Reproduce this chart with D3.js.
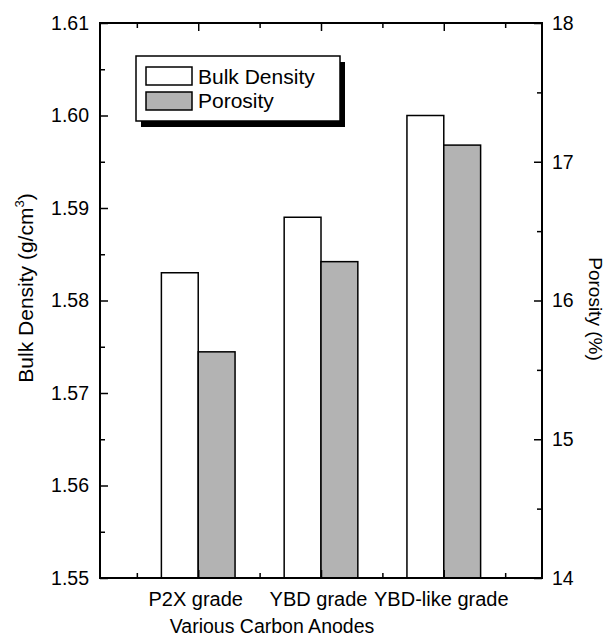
<!DOCTYPE html>
<html>
<head>
<meta charset="utf-8">
<script src="https://cdn.jsdelivr.net/npm/d3@7"></script>
<style>
  body { margin: 0; background: #fff; }
  text { font-family: "Liberation Sans", Arial, sans-serif; fill: #000; }
</style>
</head>
<body>
<div id="chart"></div>
<script>
//
// Bulk density and porosity of carbon anodes
//

var categories = ["P2X grade", "YBD grade", "YBD-like grade"];
var bulk_density = [1.583, 1.589, 1.600];   // g/cm3, left axis
var porosity = [15.63, 16.28, 17.12];       // %, right axis

var left_ticks = [1.55, 1.56, 1.57, 1.58, 1.59, 1.60, 1.61];
var left_minor = [1.555, 1.565, 1.575, 1.585, 1.595, 1.605];
var right_ticks = [14, 15, 16, 17, 18];
var right_minor = [14.5, 15.5, 16.5, 17.5];
var x_minor = [0.5, 1.5, 2.5, 3.5];

var series = [
  {name: "Bulk Density", fill: "#ffffff"},
  {name: "Porosity", fill: "#b3b3b3"}
];

var total_width = 608, total_height = 636;
var margin = {top: 23, right: 66, bottom: 58, left: 100},
    width = total_width - margin.left - margin.right,
    height = total_height - margin.top - margin.bottom;

var svg = d3.select("#chart").append("svg")
    .attr("width", total_width)
    .attr("height", total_height);

var g = svg.append("g")
    .attr("transform", "translate(" + margin.left + "," + margin.top + ")");

// scales
var x = d3.scaleLinear().domain([0.2, 3.8]).range([0, width]);
var y_left = d3.scaleLinear().domain([1.55, 1.61]).range([height, 0]);
var y_right = d3.scaleLinear().domain([14, 18]).range([height, 0]);

var bar_w = 0.3;

// bars
categories.forEach(function(c, i) {
  var cx = i + 1;
  g.append("rect")
      .attr("x", x(cx - bar_w))
      .attr("y", y_left(bulk_density[i]))
      .attr("width", x(cx) - x(cx - bar_w))
      .attr("height", height - y_left(bulk_density[i]))
      .attr("fill", series[0].fill)
      .attr("stroke", "#000")
      .attr("stroke-width", 1.5);
  g.append("rect")
      .attr("x", x(cx))
      .attr("y", y_right(porosity[i]))
      .attr("width", x(cx + bar_w) - x(cx))
      .attr("height", height - y_right(porosity[i]))
      .attr("fill", series[1].fill)
      .attr("stroke", "#000")
      .attr("stroke-width", 1.5);
});

// axes, ticks pointing inward
function style_axis(sel) {
  sel.select(".domain").remove();
  sel.selectAll(".tick line").attr("stroke", "#000").attr("stroke-width", 1.5);
  sel.selectAll(".tick text").attr("font-size", 19.5).attr("fill", "#000");
}

g.append("g")
    .call(d3.axisLeft(y_left).tickValues(left_ticks).tickSize(-8).tickPadding(11)
      .tickFormat(d3.format(".2f")))
    .call(style_axis);
g.append("g")
    .call(d3.axisLeft(y_left).tickValues(left_minor).tickSize(-5).tickFormat(""))
    .call(style_axis);

g.append("g")
    .attr("transform", "translate(" + width + ",0)")
    .call(d3.axisRight(y_right).tickValues(right_ticks).tickSize(-8).tickPadding(10)
      .tickFormat(d3.format("d")))
    .call(style_axis);
g.append("g")
    .attr("transform", "translate(" + width + ",0)")
    .call(d3.axisRight(y_right).tickValues(right_minor).tickSize(-5).tickFormat(""))
    .call(style_axis);

var xAxis = g.append("g")
    .attr("transform", "translate(0," + height + ")")
    .call(d3.axisBottom(x).tickValues([1, 2, 3]).tickSize(-8).tickPadding(14)
      .tickFormat(function(d) { return categories[d - 1]; }))
    .call(style_axis);
xAxis.selectAll(".tick text")
    .attr("font-size", 20)
    .attr("dx", -3);
g.append("g")
    .attr("transform", "translate(0," + height + ")")
    .call(d3.axisBottom(x).tickValues(x_minor).tickSize(-5).tickFormat(""))
    .call(style_axis);

g.append("g")
    .call(d3.axisTop(x).tickValues([1, 2, 3]).tickSize(-8).tickFormat(""))
    .call(style_axis);
g.append("g")
    .call(d3.axisTop(x).tickValues(x_minor).tickSize(-5).tickFormat(""))
    .call(style_axis);

// frame
g.append("rect")
    .attr("width", width)
    .attr("height", height)
    .attr("fill", "none")
    .attr("stroke", "#000")
    .attr("stroke-width", 2);

// labels
svg.append("text")
    .attr("x", 272)
    .attr("y", 633)
    .attr("text-anchor", "middle")
    .attr("font-size", 19.5)
    .text("Various Carbon Anodes");

var yl = svg.append("text")
    .attr("transform", "translate(33,288) rotate(-90)")
    .attr("text-anchor", "middle")
    .attr("font-size", 21);
yl.append("tspan").text("Bulk Density (g/cm");
yl.append("tspan").attr("font-size", 13).attr("dy", -9).text("3");
yl.append("tspan").attr("dy", 9).text(")");

svg.append("text")
    .attr("transform", "translate(589,309) rotate(90)")
    .attr("text-anchor", "middle")
    .attr("font-size", 19)
    .text("Porosity (%)");

// legend
var legend = svg.append("g").attr("transform", "translate(136,56)");
legend.append("rect")
    .attr("x", 5).attr("y", 6)
    .attr("width", 204).attr("height", 65)
    .attr("fill", "#000");
legend.append("rect")
    .attr("width", 204).attr("height", 65)
    .attr("fill", "#fff")
    .attr("stroke", "#000")
    .attr("stroke-width", 1.5);

series.forEach(function(s, i) {
  legend.append("rect")
      .attr("x", 10)
      .attr("y", 11 + i * 25)
      .attr("width", 46)
      .attr("height", 18)
      .attr("fill", s.fill)
      .attr("stroke", "#000")
      .attr("stroke-width", 1.5);
  legend.append("text")
      .attr("x", 62)
      .attr("y", 28 + i * 24)
      .attr("font-size", 21)
      .text(s.name);
});
</script>
</body>
</html>
